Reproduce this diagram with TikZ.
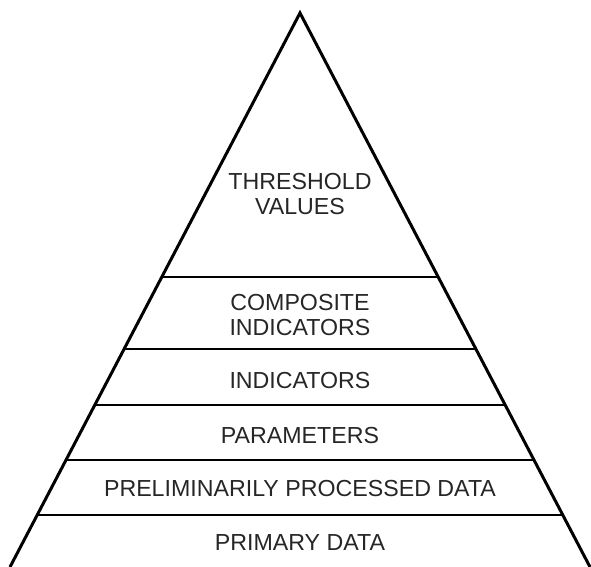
\documentclass[tikz,border=0pt]{standalone}
\usepackage{fontspec}
\setmainfont{Liberation Sans}
\usetikzlibrary{calc}

\begin{document}
\begin{tikzpicture}[x=0.5pt, y=-0.5pt,
  every node/.style={font=\fontsize{11.6}{12.5}\selectfont, text=black!85, align=center},
  side/.style={draw, line width=1.5pt, line join=miter},
  level/.style={draw, line width=0.7pt}]
\useasboundingbox (0,0) rectangle (591,567);
\coordinate (apex) at (300,13);
\coordinate (baseL) at (10,567);
\coordinate (baseR) at (590,567);
\draw[side] (baseL) -- (apex) -- (baseR);

\draw[level] ($(apex)!0.4765!(baseL)$) -- ($(apex)!0.4765!(baseR)$);
\draw[level] ($(apex)!0.6065!(baseL)$) -- ($(apex)!0.6065!(baseR)$);
\draw[level] ($(apex)!0.7076!(baseL)$) -- ($(apex)!0.7076!(baseR)$);
\draw[level] ($(apex)!0.8069!(baseL)$) -- ($(apex)!0.8069!(baseR)$);
\draw[level] ($(apex)!0.9061!(baseL)$) -- ($(apex)!0.9061!(baseR)$);

\node (threshold) at (300,194) {THRESHOLD\\VALUES};
\node (composite) at (300,315) {COMPOSITE\\INDICATORS};
\node (indicators) at (300,381) {INDICATORS};
\node (parameters) at (300,436) {PARAMETERS};
\node (prelim) at (300,489) {PRELIMINARILY PROCESSED DATA};
\node (primary) at (300,543) {PRIMARY DATA};
\end{tikzpicture}
\end{document}
